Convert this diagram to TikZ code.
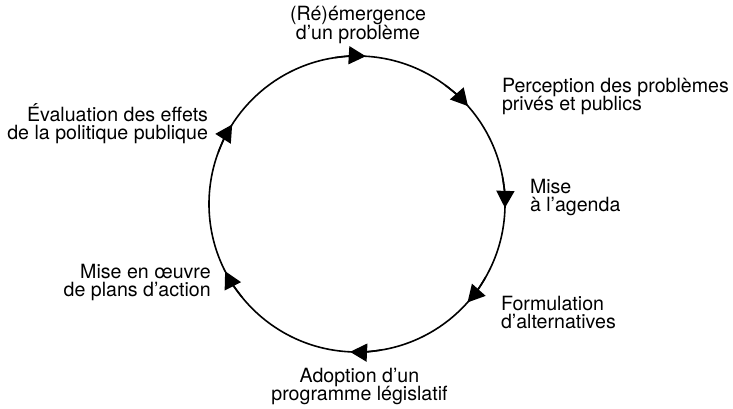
\documentclass[tikz,border=0pt]{standalone}
\usepackage{fontspec}
\setmainfont{TeX Gyre Heros}
\usepackage{tikz}
\usetikzlibrary{positioning,arrows.meta,calc}
\tikzset{
  lbl/.style  ={inner sep=0pt, outer sep=0pt, font=\fontsize{19.6}{18.7}\selectfont},
  lbll/.style ={lbl, align=left, anchor=base west},
  lblr/.style ={lbl, align=right, anchor=base east},
  lblc/.style ={lbl, align=center, anchor=base},
  ring/.style ={line width=1.6pt},
  arr/.style  ={-{Triangle[length=17pt, width=18pt]}, line width=1.6pt},
}
\newcommand{\rr}{148}

\begin{document}
\begin{tikzpicture}[x=1pt, y=1pt]
  \useasboundingbox (0,0) rectangle (733,409);
  \coordinate (c) at (357,205);
  \draw[ring] (c) circle[radius=\rr];
  % arrow marks on the cycle (clockwise)
  \draw[arr] ($(c)+(98.6:\rr)$)  arc[start angle=98.6,  end angle=86.6,  radius=\rr];
  \draw[arr] ($(c)+(53.4:\rr)$)  arc[start angle=53.4,  end angle=41.4,  radius=\rr];
  \draw[arr] ($(c)+(10.5:\rr)$)  arc[start angle=10.5,  end angle=-1.5,  radius=\rr];
  \draw[arr] ($(c)+(-29.7:\rr)$) arc[start angle=-29.7, end angle=-41.7, radius=\rr];
  \draw[arr] ($(c)+(-80.7:\rr)$) arc[start angle=-80.7, end angle=-92.7, radius=\rr];
  \draw[arr] ($(c)+(219:\rr)$)   arc[start angle=219,   end angle=207,   radius=\rr];
  \draw[arr] ($(c)+(159.5:\rr)$) arc[start angle=159.5, end angle=147.5, radius=\rr];
  % stages (anchored on the baseline of the last line)
  \node[lblc] (emerg) at (358,369.5)  {(Ré)émergence\\d’un problème};
  \node[lbll] (percep) at (502,298)   {Perception des problèmes\\privés et publics};
  \node[lbll] (agenda) at (530,197)   {Mise\\à l’agenda};
  \node[lbll] (formul) at (501,80)    {Formulation\\d’alternatives};
  \node[lblc] (adopt) at (359.5,8)    {Adoption d’un\\programme législatif};
  \node[lblr] (oeuvre) at (210.7,112) {Mise en œuvre\\de plans d’action};
  \node[lblr] (evalu) at (208,269)    {Évaluation des effets\\de la politique publique};
\end{tikzpicture}
\end{document}
